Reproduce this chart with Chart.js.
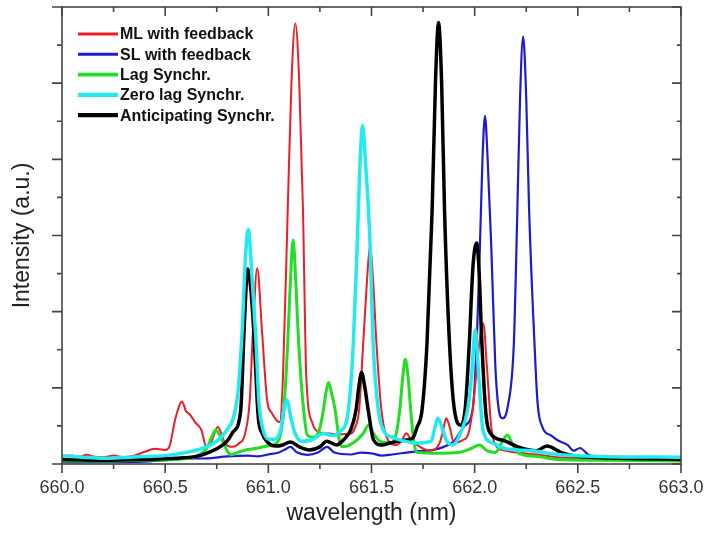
<!DOCTYPE html>
<html>
<head>
<meta charset="utf-8">
<script src="https://cdn.jsdelivr.net/npm/chart.js@4.4.0/dist/chart.umd.min.js"></script>
<style>
  html, body { margin: 0; padding: 0; background: #fff; }
</style>
</head>
<body>
<canvas id="spectra" width="708" height="538"></canvas>
<script>
// ML with feedback (red)
const mlWl = [660.00, 660.05, 660.08, 660.12, 660.15, 660.2, 660.25, 660.3, 660.35, 660.4, 660.45, 660.5, 660.52, 660.55, 660.582, 660.6, 660.62, 660.645, 660.675, 660.7, 660.725, 660.755, 660.79, 660.825, 660.86, 660.885, 660.91, 660.925, 660.946, 660.97, 660.994, 661.018, 661.04, 661.055, 661.071, 661.094, 661.112, 661.131, 661.15, 661.168, 661.184, 661.214, 661.24, 661.3, 661.35, 661.4, 661.42, 661.44, 661.46, 661.478, 661.493, 661.508, 661.524, 661.548, 661.58, 661.62, 661.645, 661.669, 661.695, 661.72, 661.78, 661.83, 661.848, 661.862, 661.88, 661.9, 661.94, 661.97, 661.99, 662.01, 662.03, 662.042, 662.06, 662.08, 662.1, 662.15, 662.2, 662.3, 662.4, 662.5, 662.6, 662.8, 663.0];
const mlInt = [0.2, 0.22, 0.18, 0.24, 0.2, 0.18, 0.22, 0.18, 0.22, 0.32, 0.4, 0.37, 0.45, 1.2, 1.64, 1.4, 1.3, 1.1, 0.9, 0.45, 0.6, 0.97, 0.55, 0.45, 0.55, 0.75, 1.68, 3.44, 5.14, 3.44, 1.68, 1.33, 1.15, 1.1, 2.29, 6.67, 10.0, 11.57, 10.0, 6.67, 2.29, 1.07, 0.85, 0.8, 0.78, 0.8, 0.95, 1.42, 3.17, 4.8, 5.75, 4.8, 3.17, 1.42, 0.63, 0.5, 0.6, 0.81, 0.6, 0.5, 0.35, 0.55, 0.9, 1.2, 0.95, 0.55, 0.62, 0.8, 1.42, 2.5, 3.5, 3.69, 2.5, 1.0, 0.5, 0.35, 0.3, 0.25, 0.18, 0.15, 0.12, 0.1, 0.1];

// SL with feedback (blue)
const slWl = [660.0, 660.2, 660.4, 660.5, 660.6, 660.7, 660.8, 660.9, 660.95, 661.0, 661.05, 661.08, 661.107, 661.14, 661.19, 661.24, 661.285, 661.32, 661.4, 661.45, 661.5, 661.55, 661.6, 661.7, 661.8, 661.85, 661.9, 661.95, 661.99, 662.01, 662.026, 662.038, 662.05, 662.063, 662.08, 662.1, 662.115, 662.135, 662.16, 662.19, 662.207, 662.22, 662.235, 662.25, 662.264, 662.29, 662.305, 662.33, 662.37, 662.4, 662.45, 662.48, 662.51, 662.55, 662.6, 662.7, 662.85, 663.0];
const slInt = [0.05, 0.05, 0.06, 0.1, 0.14, 0.15, 0.2, 0.22, 0.2, 0.25, 0.3, 0.38, 0.45, 0.3, 0.24, 0.3, 0.45, 0.3, 0.25, 0.3, 0.28, 0.22, 0.25, 0.32, 0.37, 0.45, 0.6, 1.0, 1.42, 3.17, 5.8, 8.0, 9.14, 8.0, 5.8, 2.6, 1.5, 1.2, 1.5, 3.17, 6.67, 9.6, 11.22, 9.6, 6.67, 3.17, 1.6, 0.95, 0.75, 0.63, 0.5, 0.35, 0.42, 0.25, 0.15, 0.1, 0.08, 0.08];

// Lag Synchr. (green)
const lagWl = [660.0, 660.2, 660.4, 660.55, 660.65, 660.7, 660.725, 660.745, 660.77, 660.8, 660.82, 660.85, 660.9, 660.95, 661.0, 661.04, 661.06, 661.075, 661.094, 661.107, 661.12, 661.133, 661.147, 661.171, 661.19, 661.22, 661.25, 661.267, 661.28, 661.292, 661.305, 661.324, 661.345, 661.364, 661.41, 661.46, 661.486, 661.51, 661.54, 661.59, 661.62, 661.637, 661.652, 661.664, 661.677, 661.69, 661.705, 661.72, 661.83, 661.92, 661.98, 662.023, 662.06, 662.1, 662.13, 662.159, 662.185, 662.215, 662.3, 662.4, 662.6, 663.0];
const lagInt = [0.08, 0.08, 0.1, 0.12, 0.2, 0.4, 0.7, 0.89, 0.7, 0.35, 0.24, 0.3, 0.38, 0.42, 0.48, 0.55, 0.8, 1.42, 3.17, 4.8, 5.88, 4.8, 3.17, 1.42, 0.75, 0.7, 0.95, 1.42, 1.9, 2.14, 1.9, 1.42, 0.6, 0.45, 0.55, 0.8, 1.02, 0.8, 0.6, 0.55, 0.8, 1.42, 2.3, 2.75, 2.3, 1.42, 0.6, 0.3, 0.28, 0.3, 0.4, 0.5, 0.35, 0.3, 0.55, 0.76, 0.5, 0.28, 0.2, 0.12, 0.1, 0.08];

// Zero lag Synchr. (cyan)
const zeroWl = [660.0, 660.1, 660.2, 660.3, 660.4, 660.5, 660.6, 660.7, 660.75, 660.8, 660.83, 660.855, 660.874, 660.89, 660.903, 660.92, 660.938, 660.955, 660.97, 661.0, 661.03, 661.06, 661.075, 661.09, 661.11, 661.13, 661.16, 661.21, 661.267, 661.31, 661.348, 661.388, 661.412, 661.431, 661.445, 661.457, 661.47, 661.493, 661.508, 661.533, 661.557, 661.6, 661.64, 661.72, 661.79, 661.805, 661.822, 661.845, 661.862, 661.894, 661.93, 661.965, 661.985, 662.003, 662.02, 662.04, 662.088, 662.15, 662.28, 662.4, 662.6, 663.0];
const zeroInt = [0.22, 0.18, 0.15, 0.17, 0.2, 0.22, 0.3, 0.45, 0.6, 0.9, 1.2, 2.0, 3.6, 5.5, 6.16, 5.0, 3.44, 1.6, 1.0, 0.65, 0.65, 0.9, 1.4, 1.68, 1.2, 0.8, 0.6, 0.63, 0.8, 0.75, 0.85, 1.42, 3.17, 5.8, 8.0, 8.88, 8.0, 5.8, 3.17, 1.42, 0.9, 0.7, 0.63, 0.55, 0.6, 0.9, 1.2, 0.9, 0.63, 0.5, 0.8, 1.4, 2.3, 3.52, 2.3, 0.9, 0.55, 0.4, 0.35, 0.25, 0.2, 0.18];

// Anticipating Synchr. (black)
const antWl = [660.0, 660.2, 660.4, 660.55, 660.65, 660.7, 660.75, 660.8, 660.83, 660.866, 660.882, 660.9, 660.915, 660.93, 660.951, 660.97, 661.0, 661.035, 661.07, 661.107, 661.15, 661.2, 661.25, 661.283, 661.33, 661.364, 661.4, 661.425, 661.438, 661.452, 661.468, 661.484, 661.51, 661.55, 661.59, 661.65, 661.7, 661.72, 661.745, 661.769, 661.794, 661.81, 661.825, 661.84, 661.854, 661.878, 661.902, 661.934, 661.955, 661.974, 661.992, 662.01, 662.022, 662.035, 662.055, 662.077, 662.14, 662.21, 662.3, 662.35, 662.42, 662.5, 662.7, 663.0];
const antInt = [0.12, 0.1, 0.12, 0.15, 0.2, 0.28, 0.4, 0.6, 0.85, 1.4, 3.44, 5.12, 4.6, 3.44, 1.24, 0.8, 0.55, 0.47, 0.5, 0.58, 0.45, 0.37, 0.45, 0.6, 0.5, 0.63, 0.9, 1.42, 2.0, 2.4, 2.0, 1.42, 0.63, 0.5, 0.55, 0.62, 0.68, 0.95, 1.42, 3.17, 6.67, 10.0, 11.59, 10.0, 6.67, 3.17, 1.42, 1.02, 1.5, 3.17, 5.2, 5.8, 5.0, 3.17, 1.3, 0.8, 0.62, 0.45, 0.35, 0.47, 0.3, 0.2, 0.15, 0.12];

const xTickLabels = ['660.0', '660.5', '661.0', '661.5', '662.0', '662.5', '663.0'];

const fontFamily = '"Liberation Sans", Arial, sans-serif';

const toPoints = (wl, val) => wl.map((w, i) => ({ x: w, y: val[i] }));

// frame with ticks: outward on bottom/left, inward on top/right
const frameTicks = {
    id: 'frameTicks',
    afterDatasetsDraw(chart) {
        const { ctx, chartArea: a, scales: { x, y } } = chart;
        ctx.save();
        ctx.strokeStyle = '#444';
        ctx.lineWidth = 1.6;
        ctx.strokeRect(a.left, a.top, a.right - a.left, a.bottom - a.top);
        ctx.beginPath();
        for (let k = 0; k <= 12; k++) {
            const px = x.getPixelForValue(660 + k * 0.25);
            const len = k % 2 === 0 ? 9 : 5;
            ctx.moveTo(px, a.bottom); ctx.lineTo(px, a.bottom + len);
            ctx.moveTo(px, a.top); ctx.lineTo(px, a.top + len);
        }
        for (let k = 0; k <= 12; k++) {
            const py = y.getPixelForValue(k);
            const len = k % 2 === 0 ? 10 : 5;
            ctx.moveTo(a.left, py); ctx.lineTo(a.left - len, py);
            ctx.moveTo(a.right, py); ctx.lineTo(a.right - len + 1, py);
        }
        ctx.stroke();
        ctx.restore();
    }
};

// legend inside the plot, top-left
const insideLegend = {
    id: 'insideLegend',
    afterDraw(chart) {
        const ctx = chart.ctx;
        ctx.save();
        ctx.font = 'bold 16px ' + fontFamily;
        ctx.textBaseline = 'middle';
        ctx.fillStyle = '#111';
        chart.data.datasets.forEach((ds, i) => {
            const yy = 34 + i * 20.3;
            ctx.strokeStyle = ds.borderColor;
            ctx.lineWidth = ds.borderWidth + 0.8;
            ctx.beginPath();
            ctx.moveTo(78, yy);
            ctx.lineTo(118, yy);
            ctx.stroke();
            ctx.fillText(ds.label, 120, yy + 1);
        });
        ctx.restore();
    }
};

const ctx = document.getElementById('spectra').getContext('2d');

new Chart(ctx, {
    type: 'line',
    data: {
        datasets: [
            { label: 'ML with feedback', data: toPoints(mlWl, mlInt), borderColor: '#ee1c24', borderWidth: 2, order: 3 },
            { label: 'SL with feedback', data: toPoints(slWl, slInt), borderColor: '#1c1ccc', borderWidth: 2.2, order: 4 },
            { label: 'Lag Synchr.', data: toPoints(lagWl, lagInt), borderColor: '#22dd22', borderWidth: 3, order: 2 },
            { label: 'Zero lag Synchr.', data: toPoints(zeroWl, zeroInt), borderColor: '#22eaf0', borderWidth: 3.5, order: 0 },
            { label: 'Anticipating Synchr.', data: toPoints(antWl, antInt), borderColor: '#000000', borderWidth: 3.5, order: 1 }
        ]
    },
    options: {
        responsive: false,
        animation: false,
        layout: { padding: { top: 7, right: 23.5, bottom: 0, left: 0 } },
        elements: {
            point: { radius: 0 },
            line: { cubicInterpolationMode: 'monotone', fill: false }
        },
        scales: {
            x: {
                type: 'linear',
                min: 660,
                max: 663,
                border: { display: false },
                grid: { display: true, drawOnChartArea: false, drawTicks: true, tickLength: 9, tickColor: 'rgba(0,0,0,0)', color: 'rgba(0,0,0,0)' },
                ticks: {
                    stepSize: 0.5,
                    padding: 4.5,
                    maxRotation: 0,
                    autoSkip: false,
                    color: '#333',
                    font: { family: fontFamily, size: 18 },
                    callback: function(value) {
                        return xTickLabels[Math.round((value - 660) * 2)];
                    }
                },
                title: {
                    display: true,
                    text: 'wavelength (nm)',
                    color: '#222',
                    font: { family: fontFamily, size: 23 },
                    padding: { top: 0, bottom: 11 }
                },
                afterFit: function(scale) { scale.height = 74; }
            },
            y: {
                min: 0,
                max: 12,
                border: { display: false },
                grid: { display: false },
                ticks: { display: false, stepSize: 1 },
                title: {
                    display: true,
                    text: 'Intensity (a.u.)',
                    color: '#222',
                    font: { family: fontFamily, size: 23 },
                    padding: { top: 9, bottom: 0 }
                },
                afterFit: function(scale) { scale.width = 62; }
            }
        },
        plugins: {
            legend: { display: false },
            tooltip: { enabled: false }
        }
    },
    plugins: [frameTicks, insideLegend]
});
</script>
</body>
</html>
